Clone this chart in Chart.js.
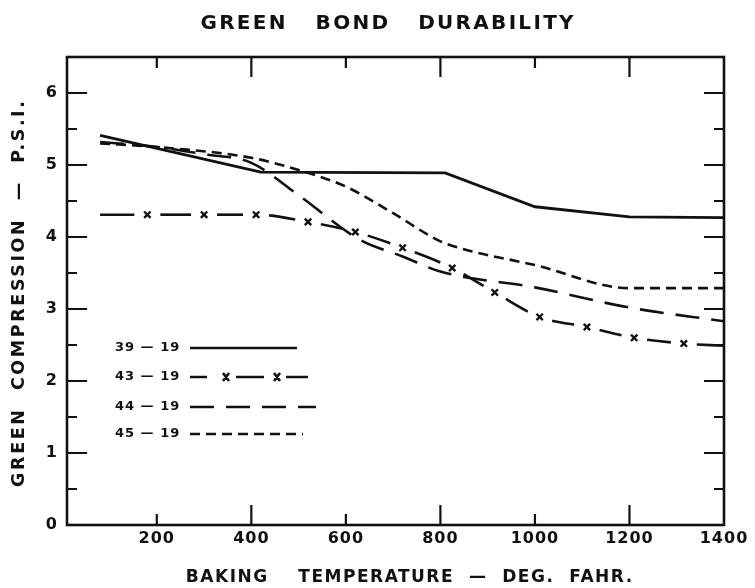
<!DOCTYPE html>
<html>
<head>
<meta charset="utf-8">
<title>Green Bond Durability</title>
<script src="https://cdn.jsdelivr.net/npm/chart.js@4.4.1/dist/chart.umd.min.js"></script>
<style>
  html, body { margin: 0; padding: 0; background: #fff; }
  #bond-chart { display: block; }
</style>
</head>
<body>
<canvas id="bond-chart" width="755" height="588"></canvas>
<script>
// Подписи
const chartTitle = 'GREEN   BOND   DURABILITY';
const xTitle = 'BAKING    TEMPERATURE  —  DEG.  FAHR.';
const yTitle = 'GREEN  COMPRESSION  —  P.S.I.';
const seriesNames = ['39 — 19', '43 — 19', '44 — 19', '45 — 19'];

// Деления осей
const xTicks = [200, 400, 600, 800, 1000, 1200, 1400];
const yTicks = [0, 1, 2, 3, 4, 5, 6];

// Серии: температура (°F) и прочность (P.S.I.)
const temp3919 = [80, 420, 810, 1000, 1200, 1400];
const comp3919 = [5.41, 4.9, 4.89, 4.42, 4.28, 4.27];

const temp4319 = [80, 180, 300, 410, 520, 620, 720, 825, 915, 1010, 1110, 1210, 1315, 1400];
const comp4319 = [4.31, 4.31, 4.31, 4.31, 4.21, 4.07, 3.85, 3.57, 3.23, 2.89, 2.75, 2.6, 2.52, 2.49];

const temp4419 = [80, 200, 300, 400, 500, 630, 720, 800, 1000, 1200, 1400];
const comp4419 = [5.32, 5.25, 5.15, 5.03, 4.58, 3.96, 3.73, 3.52, 3.3, 3.02, 2.83];

const temp4519 = [80, 200, 400, 500, 600, 700, 800, 850, 1000, 1200, 1400];
const comp4519 = [5.3, 5.25, 5.1, 4.93, 4.7, 4.33, 3.94, 3.83, 3.61, 3.29, 3.29];

const INK = '#111';
const FONT = 'DejaVu Sans';

function toPoints(xs, ys) {
  return xs.map((x, i) => ({ x: x, y: ys[i] }));
}

// Отрезки линии 43-19 с разрывами вокруг крестиков
const markGap = 13;
function gappedDash(c) {
  const last = temp4319.length - 1;
  const d = Math.hypot(c.p1.x - c.p0.x, c.p1.y - c.p0.y);
  const g0 = c.p0DataIndex === 0 ? 0 : markGap;
  const g1 = c.p1DataIndex === last ? 0 : markGap;
  return [0, g0, Math.max(d - g0 - g1, 0), 1000];
}

/**
 * Рамка графика и внутренние засечки
 */
const framePlugin = {
  id: 'frame',
  afterDatasetsDraw(chart) {
    const { ctx, chartArea: a, scales } = chart;
    ctx.save();
    ctx.strokeStyle = INK;
    ctx.lineWidth = 2.6;
    ctx.strokeRect(a.left, a.top, a.right - a.left, a.bottom - a.top);
    ctx.lineWidth = 2.2;
    ctx.beginPath();
    xTicks.forEach(v => {
      if (v >= scales.x.max) return;
      const px = scales.x.getPixelForValue(v);
      const len = v % 400 === 0 ? 20 : 11;
      ctx.moveTo(px, a.bottom); ctx.lineTo(px, a.bottom - len);
      ctx.moveTo(px, a.top); ctx.lineTo(px, a.top + len);
    });
    for (let v = 0.5; v < scales.y.max; v += 0.5) {
      const py = scales.y.getPixelForValue(v);
      const len = Number.isInteger(v) ? 20 : 10;
      ctx.moveTo(a.left, py); ctx.lineTo(a.left + len, py);
      ctx.moveTo(a.right, py); ctx.lineTo(a.right - len, py);
    }
    ctx.stroke();
    ctx.restore();
  }
};

/**
 * Заголовок и подписи осей с разрядкой
 */
function spacedText(ctx, text, x, y, size, spacing, angle) {
  ctx.save();
  ctx.translate(x, y);
  if (angle) ctx.rotate(angle);
  ctx.font = 'bold ' + size + 'px "' + FONT + '"';
  ctx.letterSpacing = spacing + 'px';
  ctx.fillStyle = INK;
  ctx.textAlign = 'center';
  ctx.textBaseline = 'middle';
  ctx.fillText(text, spacing / 2, 0);
  ctx.restore();
}

const textPlugin = {
  id: 'texts',
  beforeLayout(chart) { chart.ctx.letterSpacing = '1px'; },
  beforeDraw(chart) { chart.ctx.letterSpacing = '1px'; },
  afterDraw(chart) {
    const ctx = chart.ctx;
    spacedText(ctx, chartTitle, 387, 24, 20, 2.3, 0);
    spacedText(ctx, xTitle, 409, 578, 17, 1.5, 0);
    spacedText(ctx, yTitle, 19, 294, 17.5, 2.6, -Math.PI / 2);
  }
};

/**
 * Легенда внутри области графика
 */
const keyPlugin = {
  id: 'key',
  afterDraw(chart) {
    const { ctx, chartArea: a } = chart;
    const textX = a.left + 48;
    const lineX = a.left + 123;
    const rows = [348, 377, 407, 434];
    ctx.save();
    ctx.fillStyle = INK;
    ctx.strokeStyle = INK;
    ctx.font = 'bold 13px "' + FONT + '"';
    ctx.letterSpacing = '1px';
    ctx.textBaseline = 'middle';
    chart.data.datasets.forEach((ds, i) => {
      const y = rows[i];
      ctx.fillText(ds.label, textX, y);
      ctx.lineWidth = 2.6;
      ctx.beginPath();
      if (i === 1) {
        ctx.setLineDash([]);
        [[0, 17], [46, 74], [96, 118]].forEach(p => {
          ctx.moveTo(lineX + p[0], y); ctx.lineTo(lineX + p[1], y);
        });
        [36, 87].forEach(m => {
          ctx.moveTo(lineX + m - 3, y - 4); ctx.lineTo(lineX + m + 3, y + 4);
          ctx.moveTo(lineX + m + 3, y - 4); ctx.lineTo(lineX + m - 3, y + 4);
        });
      } else {
        const w = [107, 0, 126, 113][i];
        ctx.setLineDash(ds.borderDash || []);
        ctx.moveTo(lineX, y); ctx.lineTo(lineX + w, y);
      }
      ctx.stroke();
    });
    ctx.restore();
  }
};

const tickFont = { family: FONT, size: 16, weight: 'bold' };

new Chart(document.getElementById('bond-chart'), {
  type: 'line',
  data: {
    datasets: [{
      label: seriesNames[0],
      data: toPoints(temp3919, comp3919),
      borderColor: INK,
      borderWidth: 2.8,
      pointRadius: 0,
      tension: 0
    }, {
      label: seriesNames[1],
      data: toPoints(temp4319, comp4319),
      borderColor: INK,
      borderWidth: 2.6,
      cubicInterpolationMode: 'monotone',
      pointStyle: 'crossRot',
      pointRadius: c => (c.dataIndex === 0 || c.dataIndex === temp4319.length - 1) ? 0 : 4.5,
      pointBorderWidth: 2.4,
      pointBorderColor: INK,
      segment: { borderDash: gappedDash }
    }, {
      label: seriesNames[2],
      data: toPoints(temp4419, comp4419),
      borderColor: INK,
      borderWidth: 2.6,
      borderDash: [24, 12],
      cubicInterpolationMode: 'monotone',
      pointRadius: 0
    }, {
      label: seriesNames[3],
      data: toPoints(temp4519, comp4519),
      borderColor: INK,
      borderWidth: 2.6,
      borderDash: [10, 6],
      cubicInterpolationMode: 'monotone',
      pointRadius: 0
    }]
  },
  options: {
    responsive: false,
    animation: false,
    devicePixelRatio: 1,
    layout: { padding: { top: 57, right: 31, bottom: 0, left: 0 } },
    plugins: {
      legend: { display: false },
      tooltip: { enabled: false },
      title: { display: false }
    },
    scales: {
      x: {
        type: 'linear',
        min: 10,
        max: 1400,
        afterBuildTicks: s => { s.ticks = xTicks.map(v => ({ value: v })); },
        afterFit: s => { s.height = 63; },
        grid: { display: false, drawTicks: false },
        border: { display: false },
        ticks: {
          color: INK, font: tickFont, padding: 4, maxRotation: 0, autoSkip: false,
          callback: v => String(v)
        }
      },
      y: {
        type: 'linear',
        min: 0,
        max: 6.5,
        afterBuildTicks: s => { s.ticks = yTicks.map(v => ({ value: v })); },
        afterFit: s => { s.width = 67; },
        grid: { display: false, drawTicks: false },
        border: { display: false },
        ticks: { color: INK, font: tickFont, padding: 9, callback: v => String(v) }
      }
    }
  },
  plugins: [textPlugin, framePlugin, keyPlugin]
});
</script>
</body>
</html>
